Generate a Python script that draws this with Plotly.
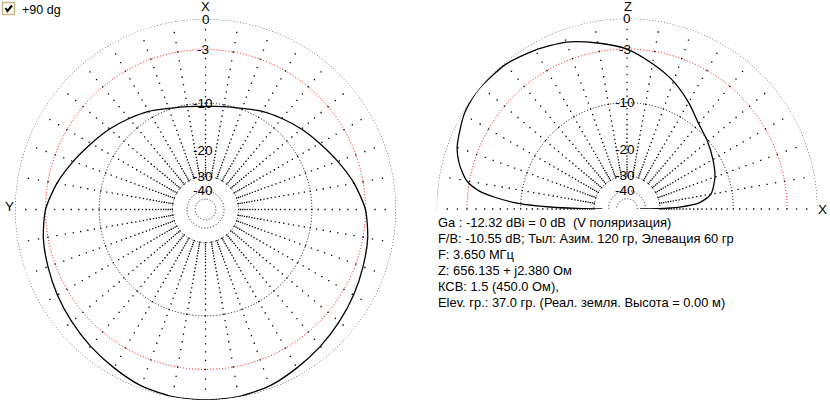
import numpy as np
import plotly.graph_objects as go

W, H = 830, 404

# ---------------- data ----------------
# Azimuth pattern (degrees from X, counter-clockwise), dB, symmetric about X
az_angles = [0, 10, 20, 30, 40, 50, 60, 70, 80, 90, 100, 110, 120, 130, 140, 150, 160, 170, 180]
az_db = [-10.55, -10.3, -9.8, -8.9, -8.1, -7.2, -6.3, -5.2, -4.0, -3.0, -2.5, -2.2, -1.85,
         -1.5, -1.1, -0.7, -0.25, -0.05, 0.0]

# Elevation pattern (degrees from +X toward Z and on to -X), dB
el_angles = [0, 0.5, 2, 5, 10, 20, 30, 40, 50, 60, 70, 80, 90, 100, 110, 120, 130, 140, 143,
             150, 160, 165, 170, 173, 175, 177, 178.5, 179.5, 180]
el_db = [-46, -32, -22, -16.5, -13.8, -12.2, -11.2, -10.2, -9.2, -7.5, -5.8, -4.4, -3.0, -2.1,
         -1.2, -0.65, -0.15, 0.0, 0.0, -0.2, -0.9, -1.6, -2.7, -4.2, -6.3, -9.6, -15.5, -25, -35]

ring_db = [0, -10, -30, -40, -50]
red_ring_db = -3
label_db = [0, -3, -10, -20, -30, -40]
label_text = ["0", "-3", "-10", "-20", "-30", "-40"]
spoke_db = list(range(-1, -31, -1))
spoke_step = 10

info_lines = [
    "Ga : -12.32 dBi = 0 dB  (V поляризация)",
    "F/B: -10.55 dB; Тыл: Азим. 120 гр, Элевация 60 гр",
    "F: 3.650 МГц",
    "Z: 656.135 + j2.380 Ом",
    "КСВ: 1.5 (450.0 Ом),",
    "Elev. гр.: 37.0 гр. (Реал. земля. Высота = 0.00 м)",
]
check_label = "+90 dg"

# ---------------- geometry ----------------
CL = (205.5, 209.5)   # left chart centre (px)
CR = (627.0, 209.0)   # right chart centre (px)
R = 190.5
FONT = "Liberation Sans, Arial, sans-serif"


def arrl(db):
    """ARRL log scale: radius factor 0.89 per 2 dB."""
    return 0.89 ** (-np.asarray(db, dtype=float) / 2.0)


fig = go.Figure()

dotdash = "1px,2px"


def add_grid(sub, amax):
    th = np.linspace(0, amax, int(amax * 4) + 1)
    for d in ring_db:
        fig.add_trace(go.Scatterpolar(r=np.full(th.size, arrl(d)), theta=th, mode="lines",
                                      line=dict(color="black", width=1, dash=dotdash),
                                      hoverinfo="skip", showlegend=False, subplot=sub))
    fig.add_trace(go.Scatterpolar(r=np.full(th.size, arrl(red_ring_db)), theta=th, mode="lines",
                                  line=dict(color="red", width=1, dash=dotdash),
                                  hoverinfo="skip", showlegend=False, subplot=sub))
    rr, tt = [], []
    last = 360 - spoke_step if amax == 360 else amax
    for a in range(0, int(last) + 1, spoke_step):
        for d in spoke_db:
            rr.append(float(arrl(d)))
            tt.append(a)
    fig.add_trace(go.Scatterpolar(r=rr, theta=tt, mode="markers",
                                  marker=dict(color="black", size=1.3, symbol="square",
                                              line=dict(width=0)),
                                  hoverinfo="skip", showlegend=False, subplot=sub))


add_grid("polar", 360)
add_grid("polar2", 180)

# azimuth pattern, mirrored to full circle
full_ang = az_angles + [360 - a for a in az_angles[::-1][1:]]
full_db = az_db + az_db[::-1][1:]
fig.add_trace(go.Scatterpolar(r=arrl(full_db), theta=full_ang, mode="lines",
                              line=dict(color="black", width=1.3, shape="spline", smoothing=0.7),
                              hoverinfo="skip", showlegend=False, subplot="polar"))

fig.add_trace(go.Scatterpolar(r=arrl(el_db), theta=el_angles, mode="lines",
                              line=dict(color="black", width=1.3, shape="spline", smoothing=0.7),
                              hoverinfo="skip", showlegend=False, subplot="polar2"))

# ---------------- annotations ----------------
ann = []


def txt(x, y, s, size=13, xanchor="center"):
    ann.append(dict(x=x, y=y, xref="x", yref="y", text=s, showarrow=False,
                    xanchor=xanchor, yanchor="middle",
                    font=dict(family=FONT, size=size, color="black")))


for (cx, cy) in (CL, CR):
    for d, s in zip(label_db, label_text):
        py = cy - R * float(arrl(d))
        txt(cx - (2.3 if s.startswith("-") else 0), py, s, size=13.5)

txt(CL[0], 6.5, "X", 13)
txt(9, 206, "Y", 13.5)
txt(CR[0] + 1, 6.5, "Z", 13)
txt(822, 209, "X", 13.5)

for i, line in enumerate(info_lines):
    ann.append(dict(x=436, y=222 + 16.1 * i, xref="x", yref="y", text=line, showarrow=False,
                    xanchor="left", yanchor="middle",
                    font=dict(family=FONT, size=12.9, color="black")))

ann.append(dict(x=19.5, y=9.5, xref="x", yref="y", text=check_label, showarrow=False,
                xanchor="left", yanchor="middle",
                font=dict(family=FONT, size=12.5, color="black")))

shapes = [
    dict(type="rect", xref="x", yref="y", x0=2.5, y0=2.5, x1=14.5, y1=14.5,
         line=dict(color="#c9b98a", width=1.5), fillcolor="#fbfbf5", layer="above"),
    dict(type="path", xref="x", yref="y", path="M 5.5 8 L 7.5 11 L 12 5.5",
         line=dict(color="black", width=2), layer="above"),
]

fig.update_layout(
    width=W, height=H,
    margin=dict(l=0, r=0, t=0, b=0),
    paper_bgcolor="white", plot_bgcolor="rgba(0,0,0,0)",
    showlegend=False,
    xaxis=dict(range=[0, W], visible=False, domain=[0, 1], fixedrange=True),
    yaxis=dict(range=[H, 0], visible=False, domain=[0, 1], fixedrange=True),
    polar=dict(
        domain=dict(x=[(CL[0] - R) / W, (CL[0] + R) / W],
                    y=[1 - (CL[1] + R) / H, 1 - (CL[1] - R) / H]),
        bgcolor="rgba(0,0,0,0)",
        radialaxis=dict(range=[0, 1], visible=False),
        angularaxis=dict(rotation=90, direction="counterclockwise", visible=False),
    ),
    polar2=dict(
        domain=dict(x=[(CR[0] - R) / W, (CR[0] + R) / W],
                    y=[1 - CR[1] / H, 1 - (CR[1] - R) / H]),
        sector=[0, 180],
        bgcolor="rgba(0,0,0,0)",
        radialaxis=dict(range=[0, 1], visible=False),
        angularaxis=dict(rotation=0, direction="counterclockwise", visible=False),
    ),
    annotations=ann,
    shapes=shapes,
)

fig.write_html("out.html", config={"displayModeBar": False},
               post_script="document.body.style.margin='0';document.body.style.overflow='hidden';")
